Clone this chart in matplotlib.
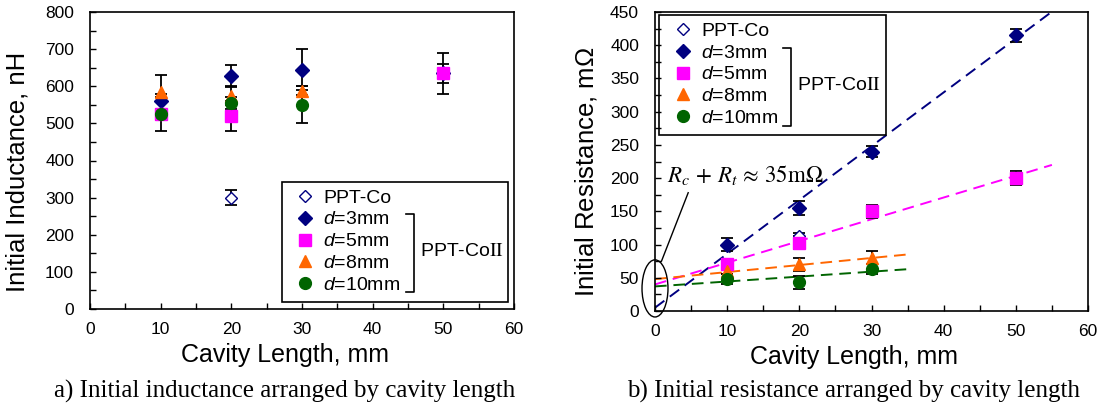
import matplotlib
matplotlib.use("Agg")
import matplotlib.pyplot as plt
import numpy as np
from matplotlib.lines import Line2D
from matplotlib.patches import Rectangle, Ellipse

plt.rcParams['font.family'] = ['Liberation Sans', 'DejaVu Sans']
plt.rcParams['mathtext.fontset'] = 'custom'
plt.rcParams['mathtext.rm'] = 'Liberation Sans'
plt.rcParams['mathtext.it'] = 'Liberation Sans:italic'

# ---------------- data: inductance (nH) ----------------
L_co_x = [20]; L_co_y = [300]; L_co_e = [20]
L_3_x = [10, 20, 30, 50]; L_3_y = [560, 628, 645, 635]; L_3_e = [20, 30, 55, 25]
L_5_x = [10, 20, 50]; L_5_y = [525, 520, 635]; L_5_e = [15, 40, 55]
L_8_x = [10, 20, 30]; L_8_y = [585, 575, 588]; L_8_e = [45, 25, 12]
L_10_x = [10, 20, 30]; L_10_y = [525, 555, 550]; L_10_e = [45, 15, 50]

# ---------------- data: resistance (mOhm) ----------------
R_co_x = [20]; R_co_y = [113]; R_co_e = [5]
R_3_x = [10, 20, 30, 50]; R_3_y = [100, 155, 240, 415]; R_3_e = [10, 10, 8, 10]
R_5_x = [10, 20, 30, 50]; R_5_y = [70, 103, 150, 200]; R_5_e = [5, 10, 10, 10]
R_8_x = [10, 20, 30]; R_8_y = [60, 70, 80]; R_8_e = [5, 10, 10]
R_10_x = [10, 20, 30]; R_10_y = [48, 43, 63]; R_10_e = [8, 10, 8]

# linear fits: (intercept, slope, x_end)
fit_3 = (5, 8.1, 55)
fit_5 = (40, 3.27, 55)
fit_8 = (48, 1.06, 35)
fit_10 = (37, 0.74, 35)

labels = ['PPT-Co', '$d$=3mm', '$d$=5mm', '$d$=8mm', '$d$=10mm']

navy = '#000080'; mag = '#FF00FF'; orange = '#FF6600'; green = '#006400'
styles = [
    dict(marker='D', mfc='white', mec=navy, ms=6.5, mew=1.0),
    dict(marker='D', mfc=navy, mec=navy, ms=7.5),
    dict(marker='s', mfc=mag, mec=mag, ms=8),
    dict(marker='^', mfc=orange, mec=orange, ms=9),
    dict(marker='o', mfc=green, mec=green, ms=8.5),
]

W, H = 1099, 409
fig = plt.figure(figsize=(W / 100, H / 100), dpi=100)

def ax_rect(l, t, r, b):
    return [l / W, 1 - b / H, (r - l) / W, (b - t) / H]

axL = fig.add_axes(ax_rect(90, 12, 514, 309))
axR = fig.add_axes(ax_rect(655, 12, 1088, 311))

def draw(ax, sets):
    for (x, y, e) in sets:
        ax.errorbar(x, y, yerr=e, fmt='none', ecolor='black', elinewidth=1.3,
                    capsize=4, capthick=1.3, zorder=2)
    for (x, y, e), st in zip(sets, styles):
        ax.plot(x, y, linestyle='none', zorder=3, **st)

setsL = [(L_co_x, L_co_y, L_co_e), (L_3_x, L_3_y, L_3_e), (L_5_x, L_5_y, L_5_e),
         (L_8_x, L_8_y, L_8_e), (L_10_x, L_10_y, L_10_e)]
setsR = [(R_co_x, R_co_y, R_co_e), (R_3_x, R_3_y, R_3_e), (R_5_x, R_5_y, R_5_e),
         (R_8_x, R_8_y, R_8_e), (R_10_x, R_10_y, R_10_e)]
draw(axL, setsL)
draw(axR, setsR)

for (b0, m, xe), c in zip([fit_3, fit_5, fit_8, fit_10], [navy, mag, orange, green]):
    xs = np.array([0, xe])
    axR.plot(xs, b0 + m * xs, linestyle=(0, (6, 3.5)), color=c, lw=1.4, zorder=1)

for ax, xl in ((axL, (285 - 90) / 424), (axR, (854 - 655) / 433)):
    ax.set_xlim(0, 60)
    ax.set_xticks(np.arange(0, 61, 10))
    ax.set_xticks(np.arange(0, 61, 5), minor=True)
    ax.tick_params(which='both', direction='in', labelsize=12.5, width=1, top=False, right=False)
    ax.tick_params(which='major', length=4)
    ax.tick_params(which='minor', length=4)
    ax.tick_params(axis='x', pad=9)
    ax.tick_params(axis='y', pad=11.5)
    for s in ax.spines.values():
        s.set_linewidth(1.2)
    ax.set_xlabel('Cavity Length, mm', fontsize=18)
    ax.xaxis.set_label_coords(xl, -0.115)

axL.set_ylim(0, 800)
axL.set_yticks(np.arange(0, 801, 100))
axL.set_yticks(np.arange(0, 801, 50), minor=True)
axL.set_ylabel('Initial Inductance, nH', fontsize=18.5)
axL.yaxis.set_label_coords(-0.142, 0.461)

axR.set_ylim(0, 450)
axR.set_yticks(np.arange(0, 451, 50))
axR.set_yticks(np.arange(0, 451, 25), minor=True)
axR.set_ylabel('Initial Resistance, m$\\Omega$', fontsize=18.5)
axR.yaxis.set_label_coords(-0.129, 0.465)

# legends
def make_legend(ax, box, anchor, bracket, ptext):
    handles = [Line2D([], [], linestyle='none', **st) for st in styles]
    handles[0] = Line2D([], [], linestyle='none', marker='D', mfc='white', mec=navy, ms=6, mew=1.0)
    ax.legend(handles, labels, loc='upper left', bbox_to_anchor=anchor,
              bbox_transform=fig.transFigure, frameon=False, fontsize=14,
              handlelength=1.0, handletextpad=0.45, labelspacing=0.22,
              borderpad=0, borderaxespad=0)
    l, t, r, b = box
    fig.patches.append(Rectangle((l / W, 1 - b / H), (r - l) / W, (b - t) / H,
                                 transform=fig.transFigure, fill=False, ec='black', lw=1.2))
    bx, bt, bb = bracket
    fig.add_artist(Line2D([bx / W - 0.007, bx / W, bx / W, bx / W - 0.007],
                          [1 - bt / H, 1 - bt / H, 1 - bb / H, 1 - bb / H],
                          transform=fig.transFigure, color='black', lw=1.2))
    px, py = ptext
    fig.text(px / W, 1 - py / H, 'PPT-Co$\\mathrm{II}$', fontsize=14, va='center', ha='left',
             math_fontfamily='stix')

make_legend(axL, (282, 182, 508, 302), (295 / W, 1 - 189 / H), (414, 214, 292), (420, 252))
make_legend(axR, (659, 15, 886, 135), (673 / W, 1 - 22 / H), (791, 48, 126), (797, 85))

# annotation on resistance plot
axR.add_patch(Ellipse((0.0, 34), 3.6, 86, fill=False, ec='black', lw=1.0, clip_on=False, zorder=4))
axR.plot([0.9, 4.6], [75, 178], color='black', lw=1.0, clip_on=False, zorder=4)
axR.text(1.6, 205, '$R_c\\,+\\,R_t\\,\\approx\\,35\\mathrm{m}\\Omega$', fontsize=16.5,
         math_fontfamily='stix', va='center', ha='left')

fig.text(285 / W, 1 - 391 / H, 'a) Initial inductance arranged by cavity length',
         fontsize=18, family='Liberation Serif', ha='center', va='center')
fig.text(854 / W, 1 - 391 / H, 'b) Initial resistance arranged by cavity length',
         fontsize=18, family='Liberation Serif', ha='center', va='center')

fig.savefig('out.png', dpi=100)
